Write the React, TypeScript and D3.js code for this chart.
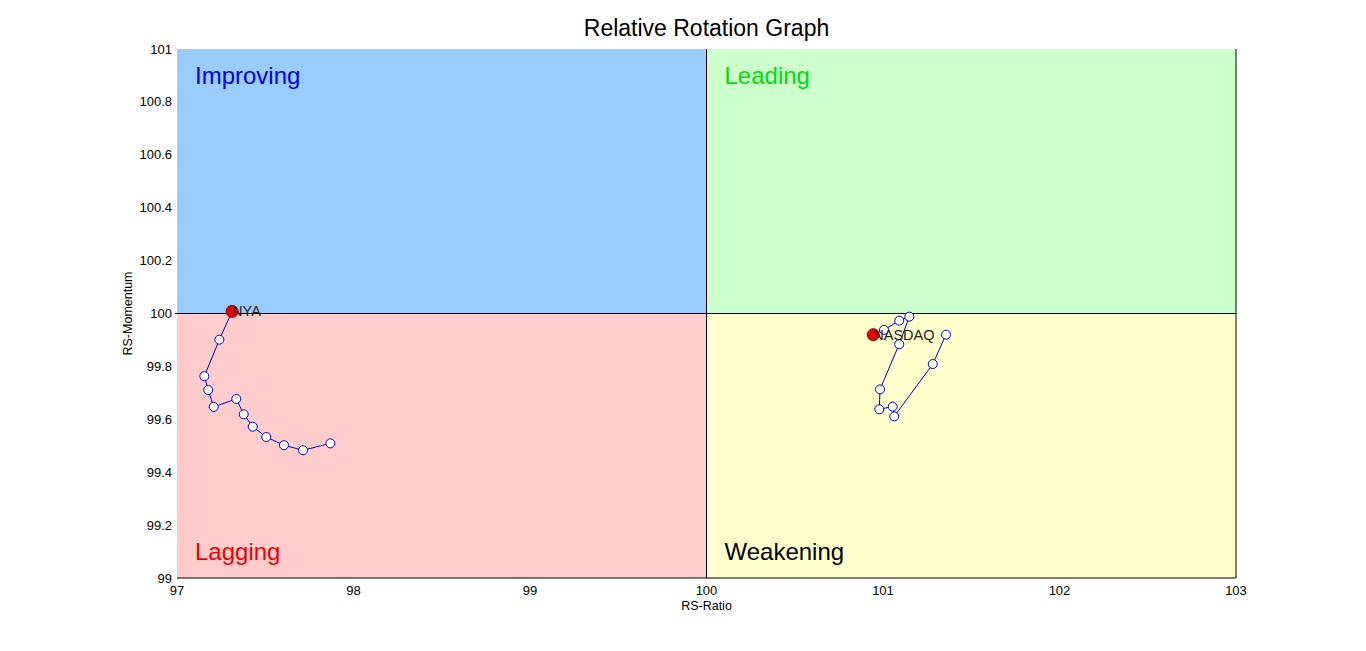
import React from 'react';
import * as d3 from 'd3';

// RS-Ratio / RS-Momentum trails, oldest point first, head (latest) last
const nyaRatio = [97.869, 97.714, 97.606, 97.506, 97.429, 97.378, 97.336, 97.208, 97.177, 97.155, 97.240, 97.312];
const nyaMomentum = [99.509, 99.483, 99.502, 99.533, 99.572, 99.619, 99.677, 99.647, 99.711, 99.763, 99.901, 100.008];

const nasdaqRatio = [101.357, 101.282, 101.064, 101.055, 100.979, 100.983, 101.092, 101.149, 101.092, 101.006, 100.945];
const nasdaqMomentum = [99.920, 99.809, 99.611, 99.648, 99.638, 99.713, 99.884, 99.988, 99.973, 99.938, 99.920];

const xTicks = [97, 98, 99, 100, 101, 102, 103];
const yTicks = [99, 99.2, 99.4, 99.6, 99.8, 100, 100.2, 100.4, 100.6, 100.8, 101];

const quadrants = [
    { name: 'Improving', x0: 97, x1: 100, y0: 100, y1: 101, fill: '#99ccff', color: '#0000dd' },
    { name: 'Leading', x0: 100, x1: 103, y0: 100, y1: 101, fill: '#ccffcc', color: '#00dd00' },
    { name: 'Lagging', x0: 97, x1: 100, y0: 99, y1: 100, fill: '#ffcccc', color: '#ee0000' },
    { name: 'Weakening', x0: 100, x1: 103, y0: 99, y1: 100, fill: '#ffffcc', color: '#000000' },
];

const series = [
    { name: 'NYA', ratio: nyaRatio, momentum: nyaMomentum },
    { name: 'NASDAQ', ratio: nasdaqRatio, momentum: nasdaqMomentum },
];

const App: React.FC = () => {
    const width = 1366;
    const height = 651;
    const margin = { top: 49, right: 130, bottom: 73, left: 177 };
    const font = '"Liberation Sans", Arial, sans-serif';

    const x = d3.scaleLinear().domain([97, 103]).range([margin.left, width - margin.right]);
    const y = d3.scaleLinear().domain([99, 101]).range([height - margin.bottom, margin.top]);

    const line = d3
        .line<[number, number]>()
        .x((d) => x(d[0]))
        .y((d) => y(d[1]));

    return (
        <svg
            width={width}
            height={height}
            style={{ position: 'absolute', left: 0, top: 0, background: '#fff' }}
            fontFamily={font}
        >
            {quadrants.map((q) => (
                <rect
                    key={q.name}
                    x={x(q.x0)}
                    y={y(q.y1)}
                    width={x(q.x1) - x(q.x0)}
                    height={y(q.y0) - y(q.y1)}
                    fill={q.fill}
                />
            ))}
            {quadrants.map((q) => (
                <text
                    key={q.name + '-label'}
                    x={x(q.x0) + 18}
                    y={q.y1 === 101 ? y(q.y1) + 26 : y(q.y0) - 27}
                    dominantBaseline="central"
                    fontSize={24}
                    fill={q.color}
                >
                    {q.name}
                </text>
            ))}

            {/* centre cross and frame */}
            <line x1={x(100)} x2={x(100)} y1={y(101)} y2={y(99)} stroke="#000" />
            <line x1={x(97) - 2} x2={x(103)} y1={y(100)} y2={y(100)} stroke="#000" />
            <line x1={x(97)} x2={x(103)} y1={y(99)} y2={y(99)} stroke="#000" />
            <line x1={x(103)} x2={x(103)} y1={y(101)} y2={y(99)} stroke="#000" />

            {xTicks.map((t) => (
                <text key={'x' + t} x={x(t)} y={y(99) + 12} textAnchor="middle" dominantBaseline="central" fontSize={13}>
                    {t}
                </text>
            ))}
            {yTicks.map((t) => (
                <text key={'y' + t} x={x(97) - 5} y={y(t)} textAnchor="end" dominantBaseline="central" fontSize={13}>
                    {t}
                </text>
            ))}

            <text x={x(100)} y={606} textAnchor="middle" dominantBaseline="central" fontSize={12.5}>
                RS-Ratio
            </text>
            <text
                transform={`translate(128,${y(100)}) rotate(-90)`}
                textAnchor="middle"
                dominantBaseline="central"
                fontSize={12.5}
            >
                RS-Momentum
            </text>
            <text x={x(100)} y={28} textAnchor="middle" dominantBaseline="central" fontSize={23}>
                Relative Rotation Graph
            </text>

            {series.map((s) => {
                const pts: [number, number][] = s.ratio.map((r, i) => [r, s.momentum[i]]);
                const head = pts[pts.length - 1];
                return (
                    <g key={s.name}>
                        <path d={line(pts) ?? ''} fill="none" stroke="#0000cc" strokeWidth={1} />
                        {pts.slice(0, -1).map((p, i) => (
                            <circle key={i} cx={x(p[0])} cy={y(p[1])} r={4.5} fill="#fff" stroke="#0000cc" strokeWidth={1} />
                        ))}
                        <circle cx={x(head[0])} cy={y(head[1])} r={6} fill="#ee0000" stroke="#990000" strokeWidth={1} />
                        <text
                            x={x(head[0])}
                            y={y(head[1])}
                            dominantBaseline="central"
                            fontSize={14.5}
                            fill="#222"
                        >
                            {s.name}
                        </text>
                    </g>
                );
            })}
        </svg>
    );
};

export default App;
